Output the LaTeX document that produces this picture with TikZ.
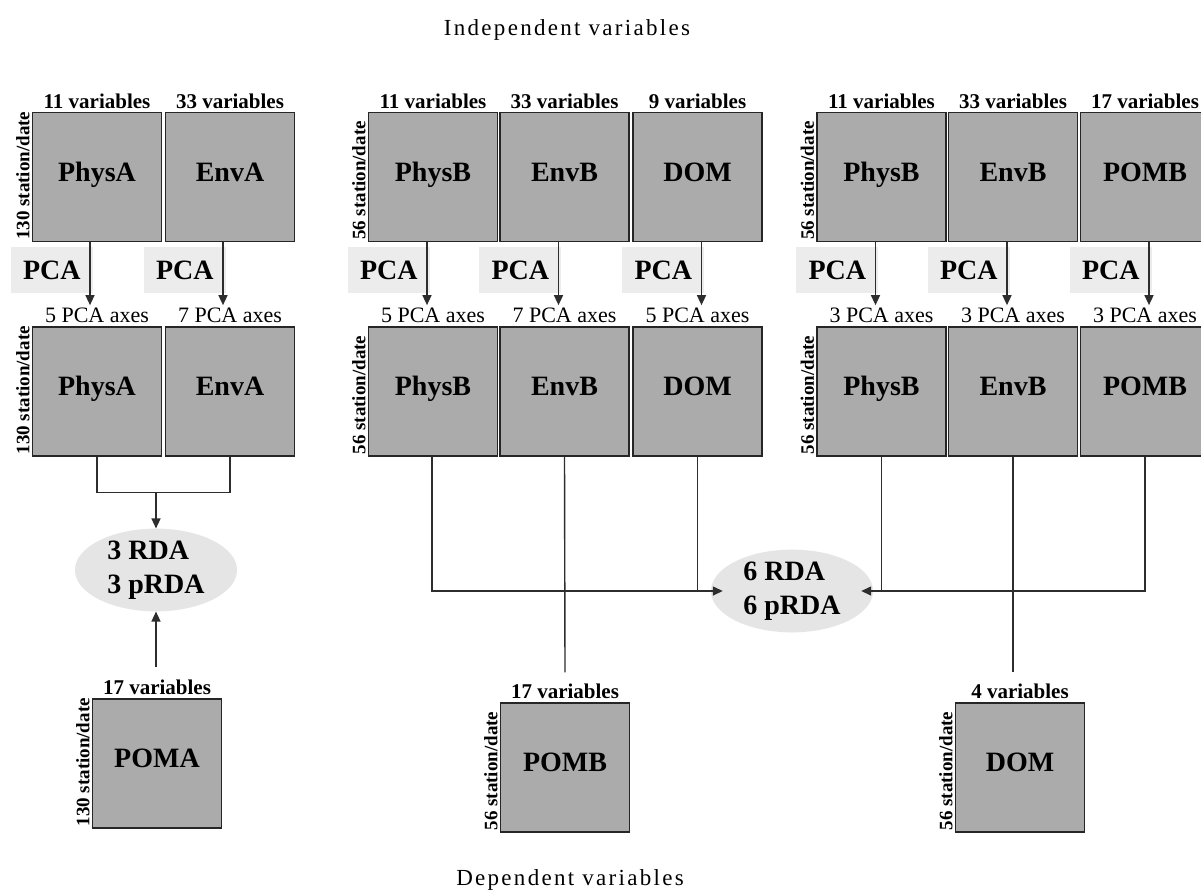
\documentclass[tikz,border=0pt]{standalone}
\usepackage{fontspec}
\setmainfont{Liberation Serif}
\usetikzlibrary{arrows.meta,positioning,calc,shapes.geometric}

\definecolor{boxgray}{RGB}{171,171,171}
\definecolor{ovalgray}{RGB}{229,229,229}
\definecolor{taggray}{RGB}{236,236,236}
\definecolor{linegray}{RGB}{45,45,45}

\tikzset{
  databox/.style={draw=black!85, fill=boxgray, line width=1.3pt, minimum width=129pt,
    minimum height=129pt, inner sep=0pt, text height=18.5pt, text depth=10.5pt,
    font=\fontsize{28}{30}\selectfont\bfseries},
  colhead/.style={anchor=south, inner sep=3pt, font=\fontsize{21}{22}\selectfont\bfseries},
  axhead/.style={anchor=south, inner sep=3pt, font=\fontsize{22}{23}\selectfont},
  rowhead/.style={rotate=90, anchor=south west, inner sep=2pt,
    font=\fontsize{19}{20}\selectfont\bfseries},
  pcatag/.style={fill=taggray, anchor=north east, minimum width=82pt, minimum height=46pt,
    inner sep=0pt, font=\fontsize{28}{30}\selectfont\bfseries},
  rdaoval/.style={ellipse, fill=ovalgray, minimum width=162pt, minimum height=79pt,
    inner sep=0pt, align=left, font=\fontsize{28}{34}\selectfont\bfseries},
  maintitle/.style={anchor=base, inner sep=0pt,
    font=\fontsize{23}{26}\selectfont\addfontfeature{LetterSpace=10}},
  link/.style={draw=linegray, line width=1.4pt},
  arr/.style={link, -{Triangle[length=10pt,width=9pt]}},
}

\begin{document}
\begin{tikzpicture}[x=1pt,y=-1pt]
  \useasboundingbox (0,0) rectangle (1201,892);
  \fill[white] (0,0) rectangle (1201,892);
  \clip (0,0) rectangle (1201,892);

  \node[maintitle] (indep) at (567,35) {Independent variables};
  \node[maintitle] (dep) at (570,885) {Dependent variables};

  % raw tables
  \node[databox] (physA) at (97,177) {PhysA};
  \node[databox] (envA) at (230,177) {EnvA};
  \node[databox] (physB) at (433,177) {PhysB};
  \node[databox] (envB) at (564.5,177) {EnvB};
  \node[databox] (domB) at (697.5,177) {DOM};
  \node[databox] (physC) at (881.5,177) {PhysB};
  \node[databox] (envC) at (1013,177) {EnvB};
  \node[databox] (pomC) at (1145,177) {POMB};

  % pca axes tables
  \node[databox] (physAax) at (97,391.5) {PhysA};
  \node[databox] (envAax) at (230,391.5) {EnvA};
  \node[databox] (physBax) at (433,391.5) {PhysB};
  \node[databox] (envBax) at (564.5,391.5) {EnvB};
  \node[databox] (domBax) at (697.5,391.5) {DOM};
  \node[databox] (physCax) at (881.5,391.5) {PhysB};
  \node[databox] (envCax) at (1013,391.5) {EnvB};
  \node[databox] (pomCax) at (1145,391.5) {POMB};

  % dependent tables
  \node[databox] (pomA) at (157,763.5) {POMA};
  \node[databox] (pomB) at (565,767.5) {POMB};
  \node[databox] (domD) at (1020,767.5) {DOM};

  \node[colhead] (hA1) at (physA.north) {11 variables};
  \node[colhead] (hA2) at (envA.north) {33 variables};
  \node[colhead] (hB1) at (physB.north) {11 variables};
  \node[colhead] (hB2) at (envB.north) {33 variables};
  \node[colhead] (hB3) at (domB.north) {9 variables};
  \node[colhead] (hC1) at (physC.north) {11 variables};
  \node[colhead] (hC2) at (envC.north) {33 variables};
  \node[colhead] (hC3) at (pomC.north) {17 variables};
  \node[colhead] (hpA) at (pomA.north) {17 variables};
  \node[colhead] (hpB) at (pomB.north) {17 variables};
  \node[colhead] (hdD) at (domD.north) {4 variables};

  \node[axhead] (xA1) at (physAax.north) {5 PCA axes};
  \node[axhead] (xA2) at (envAax.north) {7 PCA axes};
  \node[axhead] (xB1) at (physBax.north) {5 PCA axes};
  \node[axhead] (xB2) at (envBax.north) {7 PCA axes};
  \node[axhead] (xB3) at (domBax.north) {5 PCA axes};
  \node[axhead] (xC1) at (physCax.north) {3 PCA axes};
  \node[axhead] (xC2) at (envCax.north) {3 PCA axes};
  \node[axhead] (xC3) at (pomCax.north) {3 PCA axes};

  \node[rowhead] (rA1) at (physA.south west) {130 station/date};
  \node[rowhead] (rA2) at (physAax.south west) {130 station/date};
  \node[rowhead] (rB1) at (physB.south west) {56 station/date};
  \node[rowhead] (rB2) at (physBax.south west) {56 station/date};
  \node[rowhead] (rC1) at (physC.south west) {56 station/date};
  \node[rowhead] (rC2) at (physCax.south west) {56 station/date};
  \node[rowhead] (rpA) at (pomA.south west) {130 station/date};
  \node[rowhead] (rpB) at (pomB.south west) {56 station/date};
  \node[rowhead] (rdD) at (domD.south west) {56 station/date};

  % pca steps
  \foreach \t/\b/\dx in {tA1/physA/-7, tA2/envA/-7, tB1/physB/-6, tB2/envB/-6,
      tB3/domB/4, tC1/physC/-6, tC2/envC/-6, tC3/pomC/4} {
    \node[pcatag] (\t) at ([xshift=\dx pt+3pt, yshift=-5pt]\b.south) {PCA};
    \draw[arr] ([xshift=\dx pt]\b.south) -- ++(0,63);
  }

  % rda
  \node[rdaoval] (rdaA) at (156,570) {3 RDA\\3 pRDA};
  \node[rdaoval] (rdaB) at (792,591) {6 RDA\\6 pRDA};

  \draw[link] (physAax.south) -- ++(0,36) -| (envAax.south);
  \coordinate (joinA) at (156,492);
  \draw[arr] (joinA) -- (rdaA.north);
  \draw[arr] ([xshift=-1pt,yshift=31pt]pomA.north) -- (rdaA.south);

  \draw[arr, shorten >=-12pt] ([xshift=-1pt]physBax.south) |- (rdaB.west);
  \draw[link] (domBax.south) -- (domBax.south |- rdaB.west);
  \draw[link] (envBax.south) -- ([yshift=30pt]pomB.north);

  \draw[arr, shorten >=-12pt] (pomCax.south) |- (rdaB.east);
  \draw[link] (physCax.south) -- (physCax.south |- rdaB.east);
  \draw[link] (envCax.south) -- ([yshift=30pt]envCax.south |- domD.north);
\end{tikzpicture}
\end{document}
